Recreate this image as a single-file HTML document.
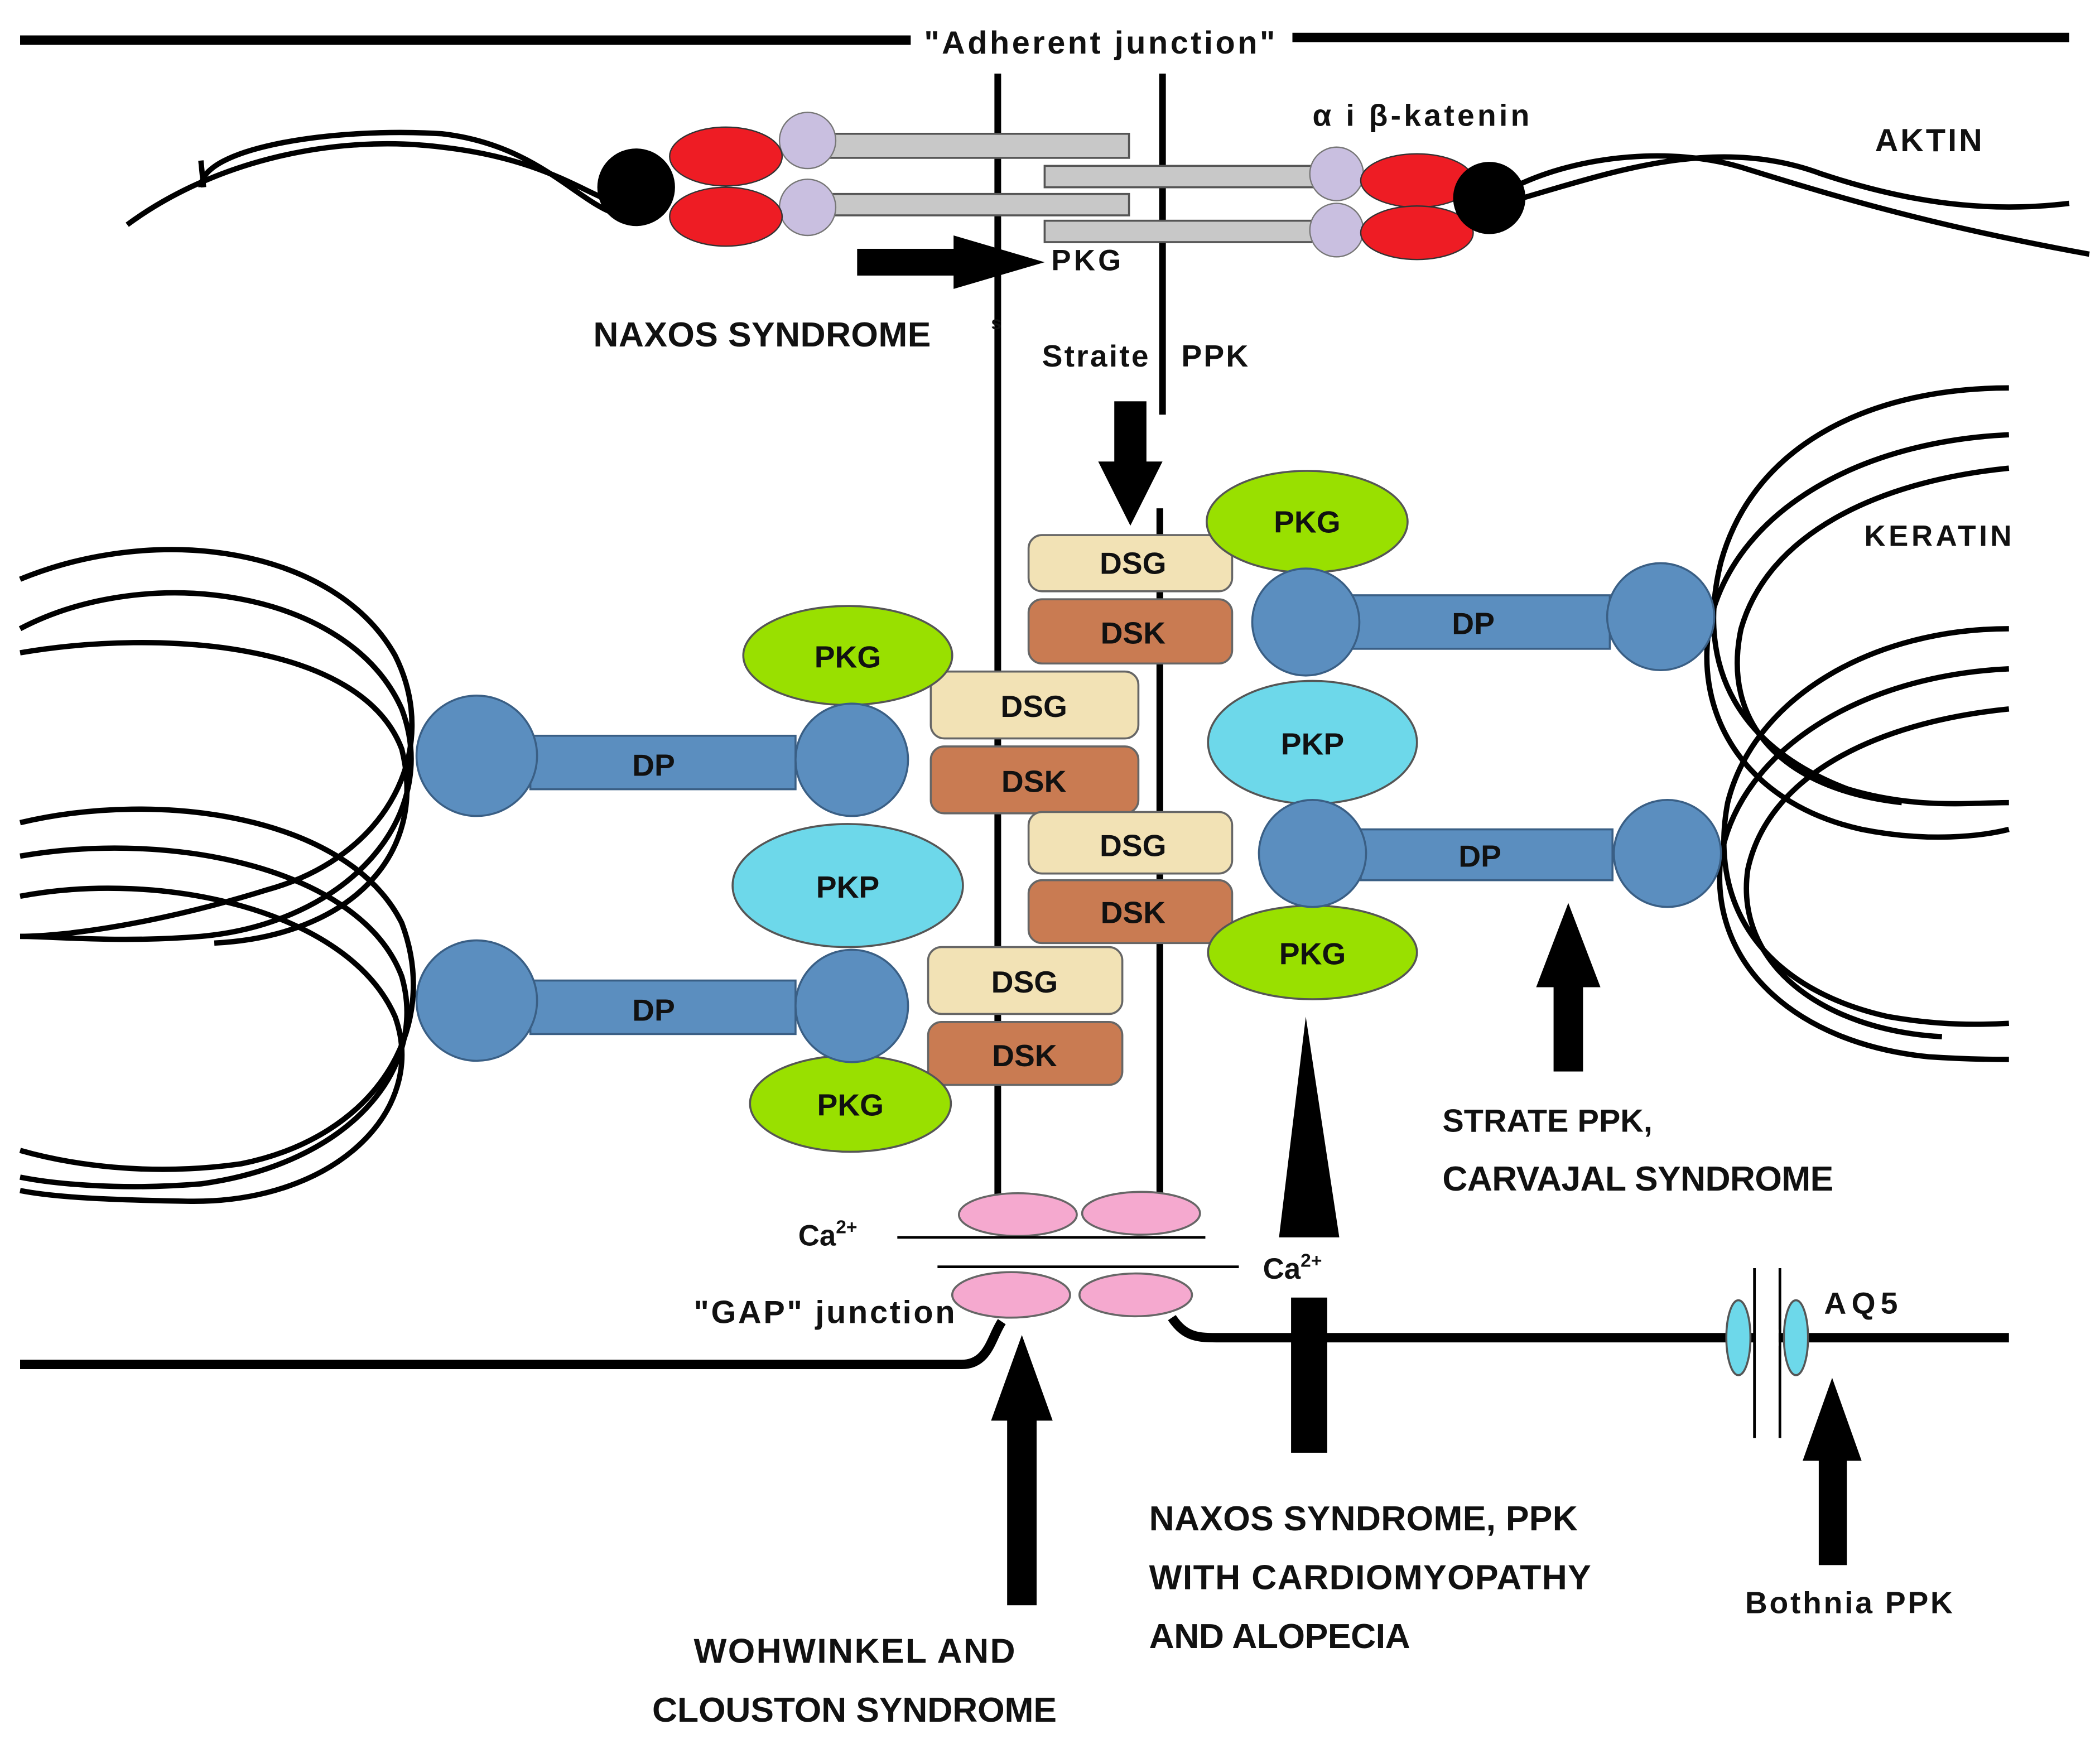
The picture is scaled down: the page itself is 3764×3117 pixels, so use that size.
<!DOCTYPE html>
<html><head><meta charset="utf-8"><style>
html,body{margin:0;padding:0;background:#fff;width:3764px;height:3117px;overflow:hidden}
svg{display:block}
text{font-family:"Liberation Sans",sans-serif;font-weight:bold;fill:#111}
</style></head><body>
<svg width="3764" height="3117" viewBox="0 0 1568 1300" preserveAspectRatio="none" xmlns="http://www.w3.org/2000/svg">
<rect width="1568" height="1300" fill="#fff"/>
<line x1="15" y1="30" x2="680" y2="30" stroke="#000" stroke-width="7"/>
<line x1="965" y1="28" x2="1545" y2="28" stroke="#000" stroke-width="7"/>
<text x="690" y="40" font-size="24" textLength="262">"Adherent junction"</text>
<line x1="745" y1="55" x2="745" y2="905" stroke="#000" stroke-width="5"/>
<line x1="868" y1="55" x2="868" y2="310" stroke="#000" stroke-width="5"/>
<line x1="866" y1="380" x2="866" y2="895" stroke="#000" stroke-width="5"/>
<g fill="none" stroke="#000" stroke-width="4">
<path d="M95,168 C160,120 250,100 330,110 C400,118 430,140 455,150"/>
<path d="M150,140 C150,110 250,95 330,100 C400,108 430,150 460,160"/>
<path d="M150,120 L152,140"/>
<path d="M1130,140 C1180,115 1250,110 1300,125 C1380,150 1450,170 1560,190"/>
<path d="M1130,150 C1200,130 1280,100 1360,130 C1420,150 1480,160 1545,152"/>
</g>
<g fill="#c8c8c8" stroke="#555" stroke-width="1.5">
<rect x="600" y="100" width="243" height="18"/>
<rect x="600" y="145" width="243" height="16"/>
<rect x="780" y="124" width="220" height="16"/>
<rect x="780" y="165" width="220" height="16"/>
</g>
<g fill="#c9bfe0" stroke="#777" stroke-width="1">
<circle cx="603" cy="105" r="21"/><circle cx="603" cy="155" r="21"/>
<circle cx="998" cy="130" r="20"/><circle cx="998" cy="172" r="20"/>
</g>
<g fill="#ee1c24" stroke="#333" stroke-width="1">
<ellipse cx="542" cy="117" rx="42" ry="22"/><ellipse cx="542" cy="162" rx="42" ry="22"/>
<ellipse cx="1058" cy="135" rx="42" ry="20"/><ellipse cx="1058" cy="174" rx="42" ry="20"/>
</g>
<circle cx="475" cy="140" r="29" fill="#000"/>
<circle cx="1112" cy="148" r="27" fill="#000"/>
<text x="980" y="94" font-size="23" textLength="162">α i β-katenin</text>
<text x="1400" y="113" font-size="24" textLength="80">AKTIN</text>
<rect x="640" y="186" width="85" height="20" fill="#000"/>
<polygon points="712,176 780,196 712,216" fill="#000"/>
<text x="785" y="202" font-size="22" textLength="52">PKG</text>
<text x="443" y="259" font-size="26" textLength="252">NAXOS SYNDROME</text>
<text x="740" y="246" font-size="14">s</text>
<text x="778" y="274" font-size="23" textLength="154" xml:space="preserve">Straite   PPK</text>
<rect x="832" y="300" width="24" height="50" fill="#000"/>
<polygon points="820,345 868,345 844,393" fill="#000"/>
<text x="1392" y="408" font-size="22" textLength="110">KERATIN</text>
<g fill="none" stroke="#000" stroke-width="4">
<path d="M15,433 C120,390 250,410 295,490 C330,560 290,640 200,665 C120,690 50,700 15,700"/>
<path d="M15,470 C110,420 260,440 300,530 C330,610 260,690 150,700 C90,705 40,700 15,700"/>
<path d="M15,488 C120,470 270,480 300,560 C320,640 260,700 160,705"/>
<path d="M15,615 C120,590 260,610 300,690 C330,770 280,850 180,870 C110,880 50,870 15,860"/>
<path d="M15,640 C130,620 270,650 300,730 C320,800 260,870 150,885 C90,890 40,885 15,880"/>
<path d="M15,670 C120,650 260,680 295,760 C320,830 250,900 140,898 C80,897 40,895 15,890"/>
</g>
<g fill="none" stroke="#000" stroke-width="4">
<path d="M1500,290 C1400,290 1310,330 1285,420 C1265,500 1300,560 1380,590 C1430,605 1470,600 1500,600"/>
<path d="M1500,325 C1390,330 1300,380 1278,460 C1262,530 1300,600 1390,620 C1440,630 1480,625 1500,620"/>
<path d="M1500,350 C1400,360 1320,400 1300,470 C1285,540 1330,590 1420,600"/>
<path d="M1500,470 C1400,470 1310,520 1290,600 C1275,680 1320,740 1410,760 C1450,767 1480,766 1500,765"/>
<path d="M1500,500 C1390,505 1300,560 1285,640 C1275,720 1340,780 1440,790 C1470,792 1490,792 1500,792"/>
<path d="M1500,530 C1400,540 1320,580 1305,650 C1295,720 1360,770 1450,775"/>
</g>
<g stroke="#666" stroke-width="1.5">
<rect x="768" y="400" width="152" height="42" rx="10" fill="#f2e2b5"/>
<rect x="768" y="448" width="152" height="48" rx="10" fill="#c97b52"/>
<rect x="695" y="502" width="155" height="50" rx="10" fill="#f2e2b5"/>
<rect x="695" y="558" width="155" height="50" rx="10" fill="#c97b52"/>
<rect x="768" y="607" width="152" height="46" rx="10" fill="#f2e2b5"/>
<rect x="768" y="658" width="152" height="47" rx="10" fill="#c97b52"/>
<rect x="693" y="708" width="145" height="50" rx="10" fill="#f2e2b5"/>
<rect x="693" y="764" width="145" height="47" rx="10" fill="#c97b52"/>
</g>
<g font-size="23" text-anchor="middle">
<text x="846" y="429">DSG</text><text x="846" y="481">DSK</text>
<text x="772" y="536">DSG</text><text x="772" y="592">DSK</text>
<text x="846" y="640">DSG</text><text x="846" y="690">DSK</text>
<text x="765" y="742">DSG</text><text x="765" y="797">DSK</text>
</g>
<g fill="#99e000" stroke="#555" stroke-width="1.5">
<ellipse cx="976" cy="390" rx="75" ry="38"/>
<ellipse cx="633" cy="490" rx="78" ry="37"/>
<ellipse cx="980" cy="712" rx="78" ry="35"/>
<ellipse cx="635" cy="825" rx="75" ry="36"/>
</g>
<g fill="#6dd8ea" stroke="#555" stroke-width="1.5">
<ellipse cx="980" cy="555" rx="78" ry="46"/>
<ellipse cx="633" cy="662" rx="86" ry="46"/>
</g>
<g font-size="23" text-anchor="middle">
<text x="976" y="398">PKG</text><text x="633" y="499">PKG</text>
<text x="980" y="721">PKG</text><text x="635" y="834">PKG</text>
<text x="980" y="564">PKP</text><text x="633" y="671">PKP</text>
</g>
<g fill="#5b8ebf" stroke="#3a5f85" stroke-width="1.5">
<rect x="396" y="550" width="198" height="40"/>
<rect x="396" y="733" width="198" height="40"/>
<rect x="1010" y="445" width="192" height="40"/>
<rect x="1016" y="620" width="188" height="38"/>
<circle cx="356" cy="565" r="45"/><circle cx="636" cy="568" r="42"/>
<circle cx="356" cy="748" r="45"/><circle cx="636" cy="752" r="42"/>
<circle cx="975" cy="465" r="40"/><circle cx="1240" cy="461" r="40"/>
<circle cx="980" cy="638" r="40"/><circle cx="1245" cy="638" r="40"/>
</g>
<g font-size="23" text-anchor="middle">
<text x="488" y="580">DP</text><text x="488" y="763">DP</text>
<text x="1100" y="474">DP</text><text x="1105" y="648">DP</text>
</g>
<rect x="1160" y="735" width="22" height="66" fill="#000"/>
<polygon points="1147,738 1195,738 1171,675" fill="#000"/>
<polygon points="975,760 955,925 1000,925" fill="#000"/>
<text x="1077" y="846" font-size="24">STRATE PPK,</text>
<text x="1077" y="890" font-size="26" textLength="292">CARVAJAL SYNDROME</text>
<g fill="#f5a9cf" stroke="#666" stroke-width="1.5">
<ellipse cx="760" cy="908" rx="44" ry="16"/><ellipse cx="852" cy="907" rx="44" ry="16"/>
<ellipse cx="755" cy="968" rx="44" ry="17"/><ellipse cx="848" cy="968" rx="42" ry="16"/>
</g>
<line x1="670" y1="925" x2="900" y2="925" stroke="#000" stroke-width="2"/>
<line x1="700" y1="947" x2="925" y2="947" stroke="#000" stroke-width="2"/>
<text x="596" y="931" font-size="22">Ca<tspan font-size="14" dy="-9">2+</tspan></text>
<text x="943" y="956" font-size="22">Ca<tspan font-size="14" dy="-9">2+</tspan></text>
<text x="518" y="989" font-size="24" textLength="195">"GAP" junction</text>
<path d="M15,1020 L718,1020 C738,1020 740,1000 748,988" fill="none" stroke="#000" stroke-width="7"/>
<path d="M875,985 C885,1000 895,1000 910,1000 L1500,1000" fill="none" stroke="#000" stroke-width="7"/>
<rect x="964" y="970" width="27" height="116" fill="#000"/>
<line x1="1310" y1="948" x2="1310" y2="1075" stroke="#000" stroke-width="2"/>
<line x1="1329" y1="948" x2="1329" y2="1075" stroke="#000" stroke-width="2"/>
<rect x="1311" y="994" width="17" height="12" fill="#fff"/>
<ellipse cx="1298" cy="1000" rx="9" ry="28" fill="#6dd8ea" stroke="#555" stroke-width="1.5"/>
<ellipse cx="1341" cy="1000" rx="9" ry="28" fill="#6dd8ea" stroke="#555" stroke-width="1.5"/>
<text x="1362" y="982" font-size="23" textLength="55">AQ5</text>
<rect x="752" y="1055" width="22" height="145" fill="#000"/>
<polygon points="740,1062 786,1062 763,998" fill="#000"/>
<rect x="1358" y="1085" width="21" height="85" fill="#000"/>
<polygon points="1346,1092 1390,1092 1368,1030" fill="#000"/>
<text x="858" y="1144" font-size="26" textLength="320">NAXOS SYNDROME, PPK</text>
<text x="858" y="1188" font-size="26" textLength="330">WITH CARDIOMYOPATHY</text>
<text x="858" y="1232" font-size="26" textLength="195">AND ALOPECIA</text>
<text x="518" y="1243" font-size="26" textLength="240">WOHWINKEL AND</text>
<text x="487" y="1287" font-size="26" textLength="302">CLOUSTON SYNDROME</text>
<text x="1303" y="1206" font-size="23" textLength="155">Bothnia PPK</text>
</svg>
</body></html>
